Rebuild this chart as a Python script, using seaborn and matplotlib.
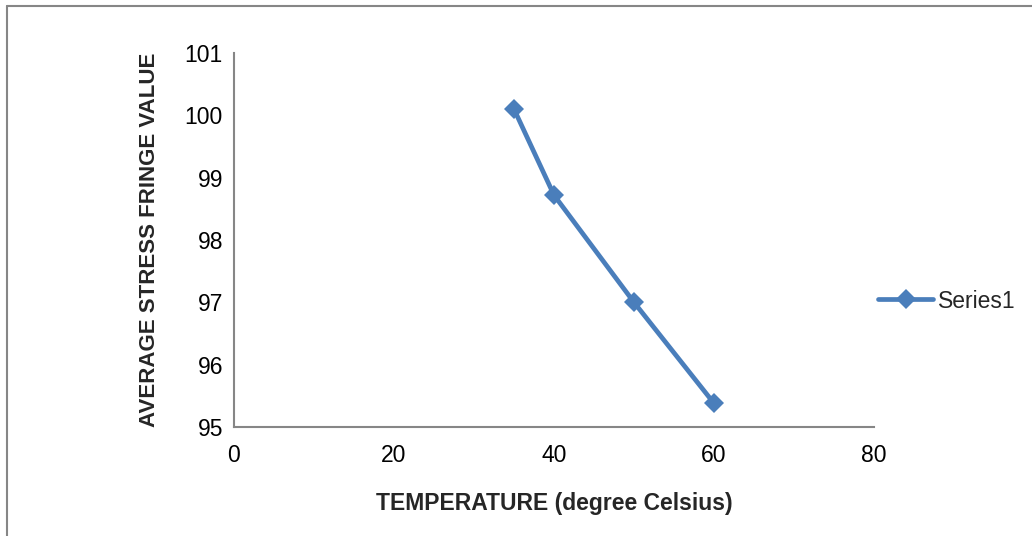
import matplotlib
matplotlib.use("Agg")
import matplotlib.pyplot as plt
from matplotlib.lines import Line2D
import seaborn as sns
import pandas as pd

temperature = [35, 40, 50, 60]
fringe_value = [100.1, 98.72, 97.0, 95.38]
series_name = "Series1"
x_ticks = [0, 20, 40, 60, 80]
y_ticks = [95, 96, 97, 98, 99, 100, 101]

sns.set_style("white")
plt.rcParams["font.family"] = ["Liberation Sans Narrow", "Liberation Sans", "DejaVu Sans"]

df = pd.DataFrame({"T": temperature, "V": fringe_value, "s": series_name})

W, H = 1032, 536
fig = plt.figure(figsize=(W / 100, H / 100), dpi=100)
ax = fig.add_axes([234 / W, 1 - 427 / H, (874 - 234) / W, (427 - 53) / H])

blue = "#4A7EBB"
sns.lineplot(data=df, x="T", y="V", hue="s", palette=[blue], marker="D",
             markersize=10, markeredgewidth=0, linewidth=3.4, ax=ax, legend=True)

ax.set_xlim(0, 80)
ax.set_ylim(95, 101)
ax.set_xticks(x_ticks)
ax.set_yticks(y_ticks)
ax.tick_params(axis="both", length=0, labelsize=16.5, colors="black")
ax.tick_params(axis="x", pad=12)
ax.tick_params(axis="y", pad=8)

for side in ["top", "right"]:
    ax.spines[side].set_visible(False)
for side in ["left", "bottom"]:
    ax.spines[side].set_color("#868686")
    ax.spines[side].set_linewidth(1.5)

ax.set_xlabel("TEMPERATURE (degree Celsius)", fontsize=16.5, fontweight="bold", labelpad=18)
ax.set_ylabel("AVERAGE STRESS FRINGE VALUE", fontsize=16, fontweight="bold", labelpad=18)

leg = ax.legend(loc="center left", bbox_to_anchor=(878 / W, 1 - 301 / H),
                bbox_transform=fig.transFigure, frameon=False, fontsize=16.5,
                handlelength=2.4, handletextpad=0.2, borderaxespad=0, borderpad=0)

# outer chart frame
fig.add_artist(Line2D([7 / W, 7 / W], [0, 1 - 6 / H], color="#868686", lw=1.5))
fig.add_artist(Line2D([7 / W, 1], [1 - 6 / H, 1 - 6 / H], color="#868686", lw=1.5))

fig.savefig("out.png", dpi=100)
